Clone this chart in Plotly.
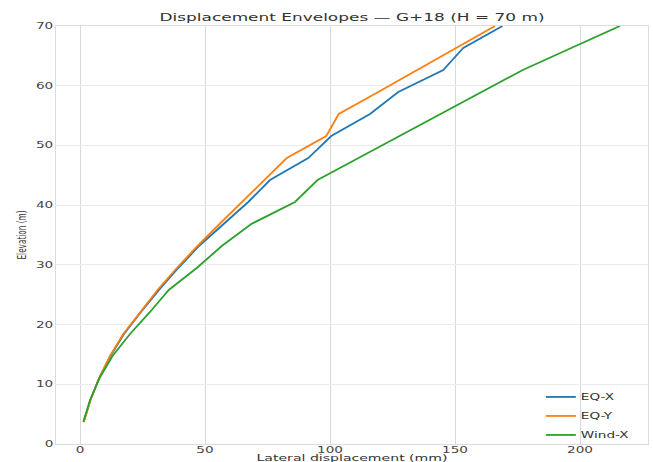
import plotly.graph_objects as go

# Elevations of floor levels (m), G+18 -> 19 levels up to 70 m
elevation = [3.68, 7.37, 11.05, 14.74, 18.42, 22.11, 25.79, 29.47, 33.16, 36.84,
             40.53, 44.21, 47.89, 51.58, 55.26, 58.95, 62.63, 66.32, 70.0]

# Lateral displacement envelopes (mm)
eq_x = [1.5, 4.2, 7.7, 12.2, 17.6, 24.4, 31.6, 39.3, 47.6, 57.3,
        67.3, 76.0, 91.3, 100.5, 116.0, 127.3, 145.3, 153.3, 169.0]
eq_y = [1.5, 4.2, 7.6, 12.0, 17.3, 24.0, 31.0, 38.7, 47.0, 55.8,
        64.8, 73.7, 82.7, 98.5, 103.5, 119.3, 135.0, 150.5, 166.0]
wind_x = [1.3, 4.0, 7.8, 13.0, 20.0, 28.0, 35.5, 46.7, 56.7, 68.5,
          86.0, 95.0, 111.4, 127.8, 144.3, 160.7, 177.1, 196.5, 216.0]

series_names = ["EQ-X", "EQ-Y", "Wind-X"]
series_colors = ["#1f77b4", "#ff7f0e", "#2ca02c"]
x_ticks = [0, 50, 100, 150, 200]
y_ticks = [0, 10, 20, 30, 40, 50, 60, 70]

FONT = "DejaVu Sans"

fig = go.Figure()
for name, vals, col in zip(series_names, [eq_x, eq_y, wind_x], series_colors):
    fig.add_trace(go.Scatter(x=vals, y=elevation, mode="lines", name=name,
                             line=dict(color=col, width=1.8)))

fig.update_layout(
    width=653, height=462,
    margin=dict(l=56, r=5, t=26, b=18, autoexpand=False),
    paper_bgcolor="white", plot_bgcolor="white",
    font=dict(family=FONT, color="#333333"),
    title=dict(text="Displacement Envelopes — G+18 (H = 70 m)",
               x=0.5, xref="paper", xanchor="center",
               y=1 - 17 / 462, yref="container", yanchor="middle",
               font=dict(size=11, color="#333333", family=FONT)),
    showlegend=True,
    legend=dict(x=0.819, y=-0.013, xanchor="left", yanchor="bottom",
                bgcolor="rgba(255,255,255,0)", borderwidth=0,
                font=dict(size=8.5, color="#333333", family=FONT),
                itemwidth=30, tracegroupgap=0),
)

fig.update_xaxes(
    range=[-9.6, 227.2], tickvals=x_ticks, ticktext=[str(v) for v in x_ticks],
    showgrid=True, gridcolor="#d9d9d9", gridwidth=1.3, zeroline=False,
    showline=True, linecolor="#dcdcdc", linewidth=1, mirror=True,
    ticks="", tickfont=dict(size=8.5, color="#444444"), automargin=False,
    title=dict(text="Lateral displacement (mm)", font=dict(size=8, color="#333333"), standoff=4),
)
fig.update_yaxes(
    range=[0, 70], tickvals=y_ticks, ticktext=[str(v) for v in y_ticks],
    showgrid=True, gridcolor="#ebebeb", gridwidth=1.3, zeroline=False,
    showline=True, linecolor="#dcdcdc", linewidth=1, mirror=True,
    ticks="", tickfont=dict(size=8.5, color="#444444"), automargin=False,
    title=dict(text="Elevation (m)", font=dict(size=13, color="#333333"), standoff=12),
)

# Horizontal text stretch to mimic the wide lettering of the reference image
post = """
var gd = document.getElementsByClassName('plotly-graph-div')[0];
function fit(sel, fn) {
  gd.querySelectorAll(sel).forEach(function(t){
    var w = t.getComputedTextLength();
    var L = fn(w);
    t.setAttribute('textLength', L);
    t.setAttribute('lengthAdjust', 'spacingAndGlyphs');
  });
}
fit('.gtitle', function(w){ return 385; });
fit('.xtick text', function(w){ return w * 1.6; });
fit('.ytick text', function(w){ return w * 1.6; });
fit('.legendtext', function(w){ return w * 1.6; });
fit('.g-xtitle text', function(w){ return 191; });
fit('.g-ytitle text', function(w){ return 49; });
gd.querySelectorAll('.legend .scrollbox, .legend').forEach(function(e){
  e.removeAttribute('clip-path');
});
function shiftY(sel, dy) {
  gd.querySelectorAll(sel).forEach(function(t){
    var y = parseFloat(t.getAttribute('y'));
    t.setAttribute('y', y + dy);
  });
}
shiftY('.g-xtitle text', 1);
shiftY('.xtick text', -2);
"""

fig.write_html("out.html", post_script=post)
